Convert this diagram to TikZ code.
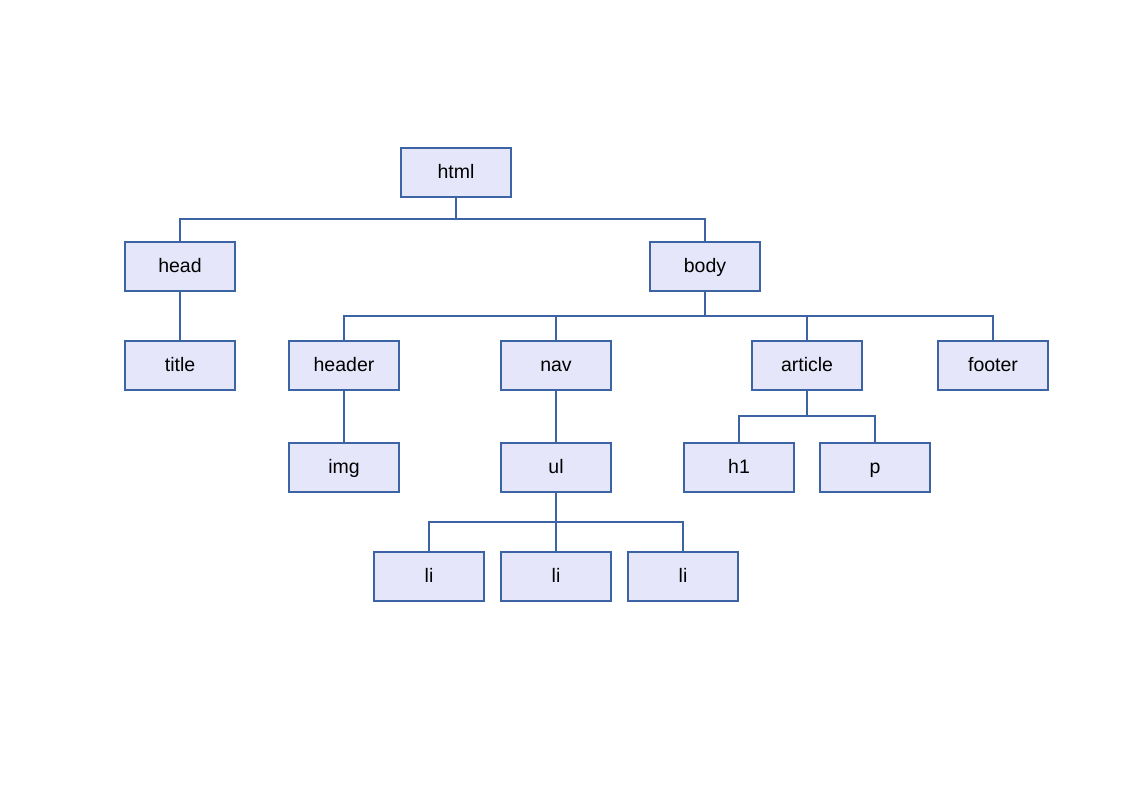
\documentclass[tikz,border=0pt]{standalone}
\usepackage{fontspec}
\setmainfont{Liberation Sans}
\definecolor{boxfill}{RGB}{230,230,250}
\definecolor{boxline}{RGB}{60,100,165}
\begin{document}
\begin{tikzpicture}[x=1pt,y=-1pt,
  tag/.style={draw=boxline, fill=boxfill, line width=1.7pt, minimum width=110pt, minimum height=49pt, inner sep=0pt, text height=12pt, text depth=0pt, font=\fontsize{19.5}{22}\selectfont, text=black},
  link/.style={draw=boxline, line width=1.7pt}]
\useasboundingbox (0,0) rectangle (1123,794);
\node[tag] (html) at (456,172.5) {html};
\node[tag] (head) at (180,266.5) {head};
\node[tag] (body) at (705,266.5) {body};
\node[tag] (title) at (180,365.5) {title};
\node[tag] (header) at (344,365.5) {header};
\node[tag] (nav) at (556,365.5) {nav};
\node[tag] (article) at (807,365.5) {article};
\node[tag] (footer) at (993,365.5) {footer};
\node[tag] (img) at (344,467.5) {img};
\node[tag] (ul) at (556,467.5) {ul};
\node[tag] (h1) at (739,467.5) {h1};
\node[tag] (p) at (875,467.5) {p};
\node[tag] (li1) at (429,576.5) {li};
\node[tag] (li2) at (556,576.5) {li};
\node[tag] (li3) at (683,576.5) {li};
\foreach \c in {head,body}
  \draw[link] (html.south) -- (html.south |- 0,219) -| (\c.north);
\draw[link] (head.south) -- (title.north);
\foreach \c in {header,nav,article,footer}
  \draw[link] (body.south) -- (body.south |- 0,316) -| (\c.north);
\draw[link] (header.south) -- (img.north);
\draw[link] (nav.south) -- (ul.north);
\foreach \c in {h1,p}
  \draw[link] (article.south) -- (article.south |- 0,416) -| (\c.north);
\foreach \c in {li1,li2,li3}
  \draw[link] (ul.south) -- (ul.south |- 0,522) -| (\c.north);
\end{tikzpicture}
\end{document}
